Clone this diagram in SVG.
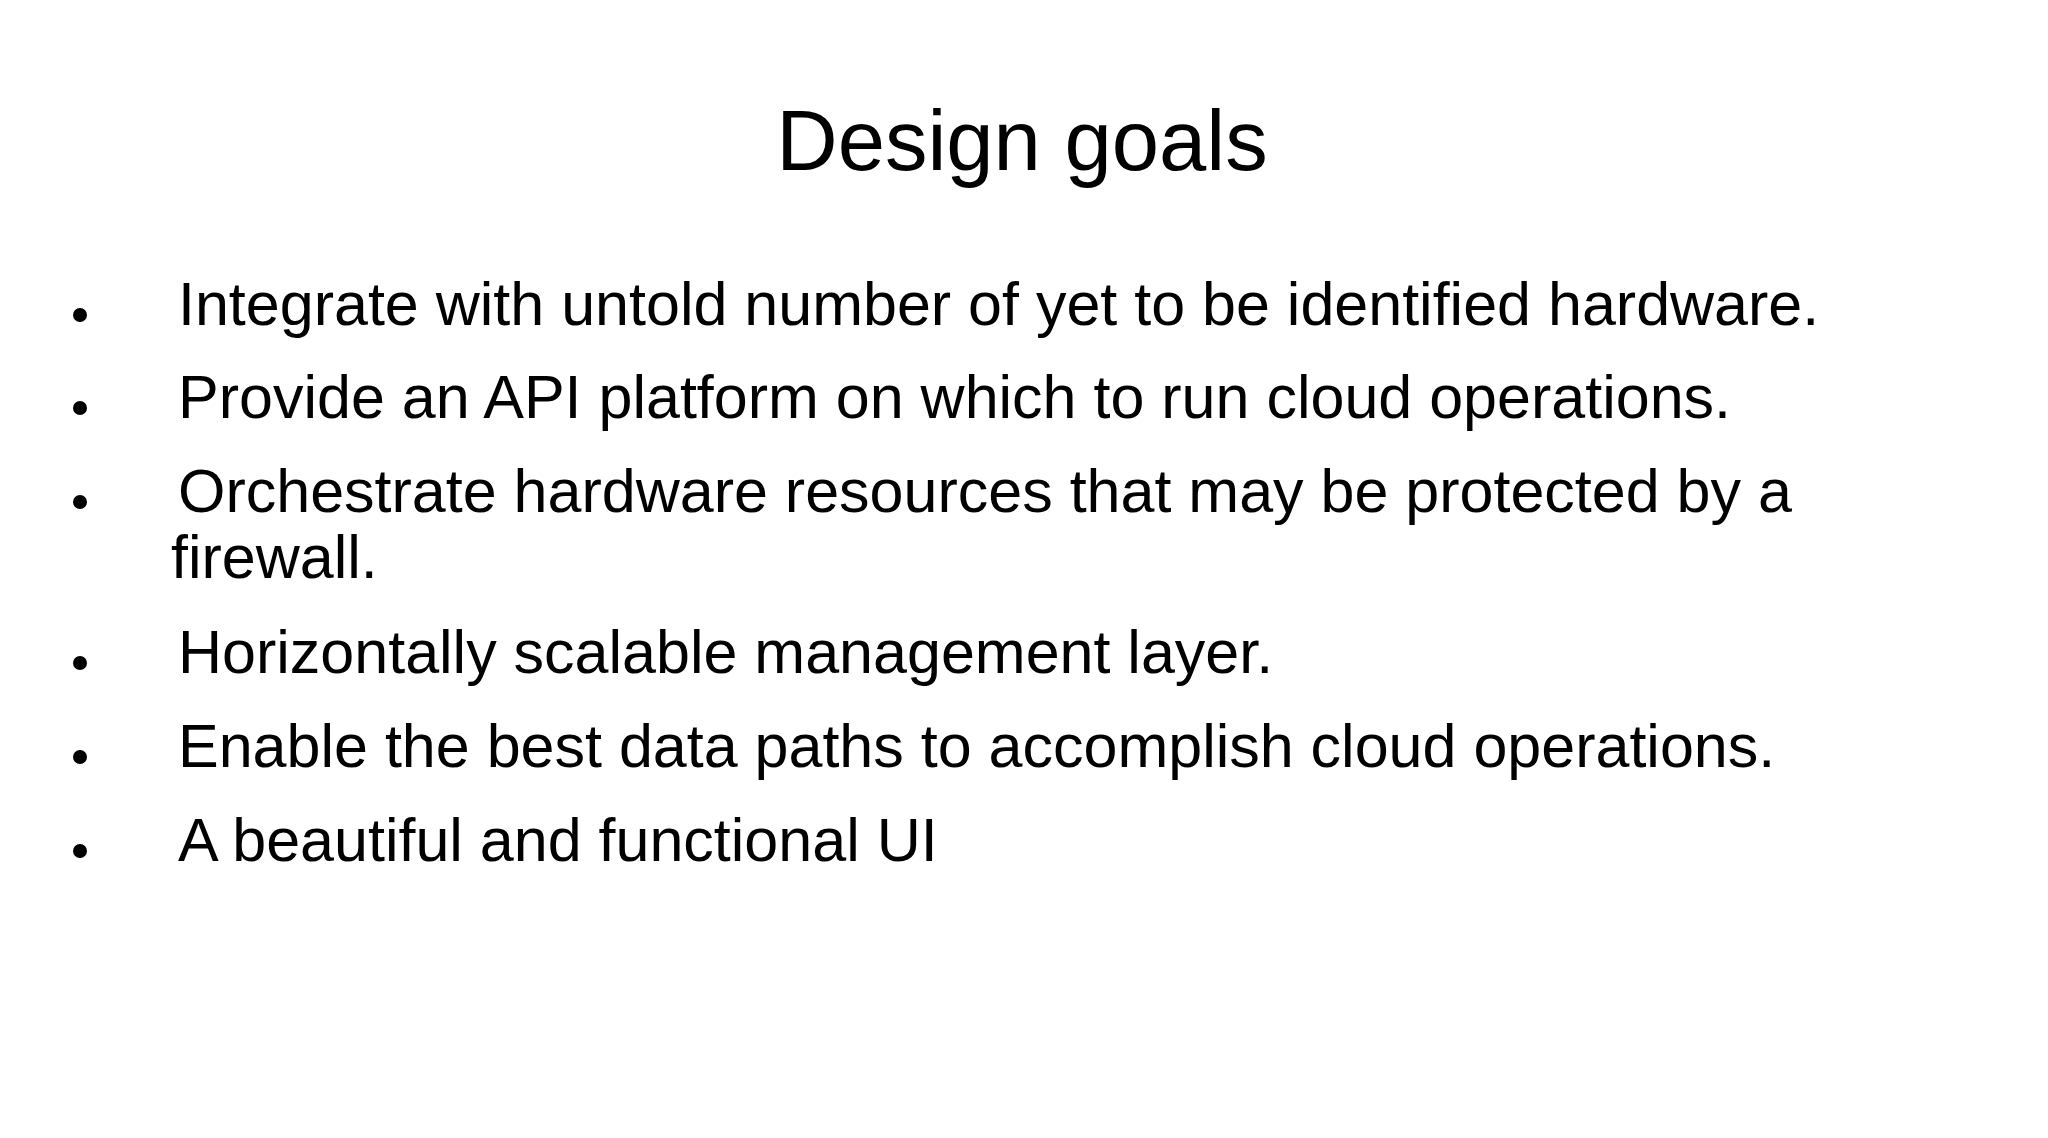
<svg xmlns="http://www.w3.org/2000/svg" width="2048" height="1138" viewBox="0 0 2048 1138">
<style>
text{font-family:"Liberation Sans",Arial,sans-serif;fill:#000}
.t{font-size:85px}
.b{font-size:61px}
</style>
<rect width="2048" height="1138" fill="#fff"/>
<g id="title"><text class="t" x="1022" y="170" text-anchor="middle">Design goals</text></g>
<g id="bullets">
<circle cx="80" cy="315" r="7"/><text class="b" x="178" y="325">Integrate with untold number of yet to be identified hardware.</text>
<circle cx="80" cy="408" r="7"/><text class="b" x="178" y="418">Provide an API platform on which to run cloud operations.</text>
<circle cx="80" cy="502" r="7"/><text class="b" x="178" y="512">Orchestrate hardware resources that may be protected by a</text>
<text class="b" x="171" y="578">firewall.</text>
<circle cx="80" cy="663" r="7"/><text class="b" x="178" y="673">Horizontally scalable management layer.</text>
<circle cx="80" cy="757" r="7"/><text class="b" x="178" y="767">Enable the best data paths to accomplish cloud operations.</text>
<circle cx="80" cy="851" r="7"/><text class="b" x="178" y="861">A beautiful and functional UI</text>
</g>
</svg>
